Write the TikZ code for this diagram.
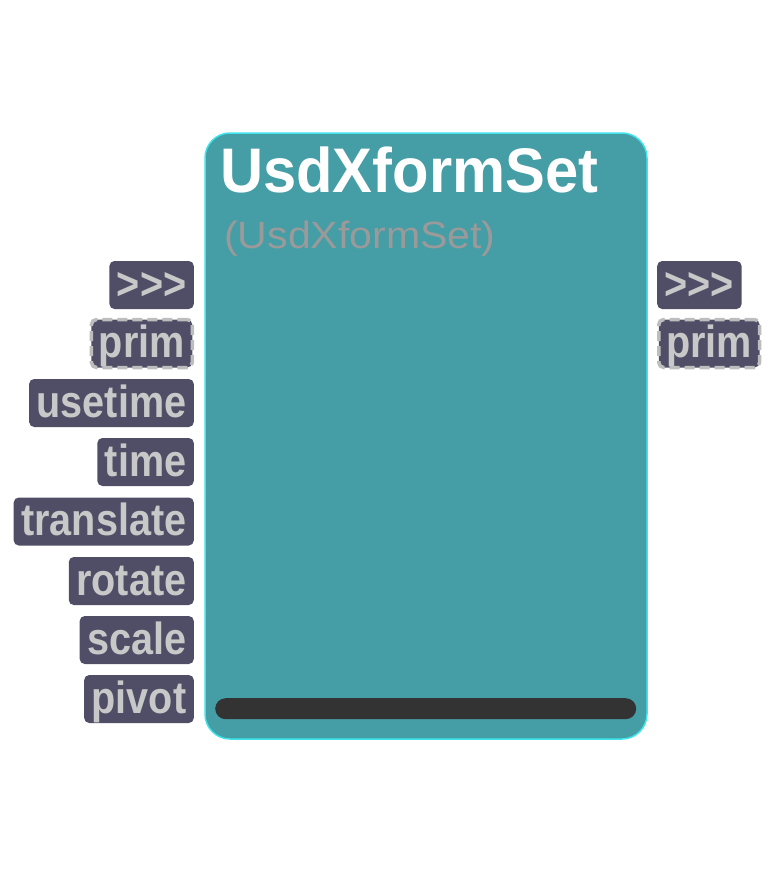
\documentclass[tikz,border=0pt]{standalone}
\usepackage{fontspec}
\setmainfont{Liberation Sans}
\newfontfamily\titlefont{Liberation Sans}[FakeStretch=0.947]
\newfontfamily\subfont{Liberation Sans}[FakeStretch=1.08]
\newfontfamily\portfont{Liberation Sans}[FakeStretch=0.88]
\definecolor{nodefill}{HTML}{459DA5}
\definecolor{nodeedge}{HTML}{3FE4EC}
\definecolor{portfill}{HTML}{4F4E66}
\definecolor{porttext}{HTML}{C8C8C8}
\definecolor{portdash}{HTML}{BDBDBD}
\definecolor{subtext}{HTML}{9A9A9A}
\definecolor{barfill}{HTML}{333333}
\tikzset{
  port/.style={fill=portfill, rounded corners=5pt, text=porttext,
    font=\portfont\fontsize{45}{50}\selectfont\bfseries, inner xsep=7.5pt, inner ysep=0pt,
    text height=34pt, text depth=6pt, minimum height=48pt},
  inport/.style={port, anchor=east},
  outport/.style={port, anchor=west},
  dashport/.style={draw=portdash, line width=3.5pt, dash pattern=on 10pt off 5pt},
}
\begin{document}
\begin{tikzpicture}[x=1pt, y=-1pt]
  \useasboundingbox (0,0) rectangle (775,875);
  % node body
  \draw[fill=nodefill, draw=nodeedge, line width=1.5pt, rounded corners=25pt]
    (205,133) rectangle (647,739);
  \node[anchor=base west, inner sep=0pt, text=white,
    font=\titlefont\fontsize{63}{70}\selectfont\bfseries] (title) at (220,192) {UsdXformSet};
  \node[anchor=base west, inner sep=0pt, text=subtext,
    font=\subfont\fontsize{38}{44}\selectfont] (subtitle) at (224,248) {(UsdXformSet)};
  % progress bar
  \node[fill=barfill, rounded corners=10.5pt, minimum width=421pt, minimum height=21pt,
    inner sep=0pt, anchor=north west] (bar) at (215,698) {};
  % input ports
  \node[inport] (inexec) at (194,285) {>{}>{}>};
  \node[inport, dashport] (inprim) at (194,343.5) {prim};
  \node[inport] (inusetime) at (194,403) {usetime};
  \node[inport] (intime) at (194,462) {time};
  \node[inport] (intranslate) at (194,521.5) {translate};
  \node[inport] (inrotate) at (194,581) {rotate};
  \node[inport] (inscale) at (194,640) {scale};
  \node[inport] (inpivot) at (194,699) {pivot};
  % output ports
  \node[outport] (outexec) at (657,285) {>{}>{}>};
  \node[outport, dashport] (outprim) at (657,343.5) {prim};
\end{tikzpicture}
\end{document}
